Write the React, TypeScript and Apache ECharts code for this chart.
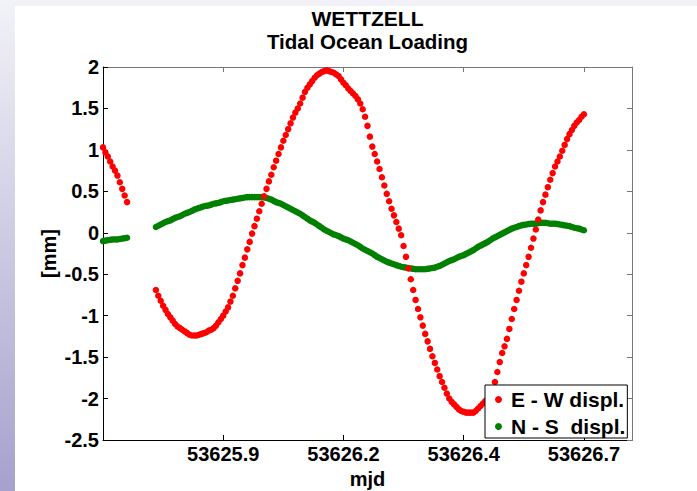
import React, { useEffect, useRef } from 'react';
import * as echarts from 'echarts';

// Observation epochs (MJD); a data gap lies between 53625.700 and 53625.760
const mjd = [
  53625.650, 53625.655, 53625.660, 53625.665, 53625.670, 53625.675, 53625.680, 53625.685, 53625.690, 53625.695, 53625.700,
  53625.760, 53625.765, 53625.770, 53625.775, 53625.780, 53625.785, 53625.790, 53625.795, 53625.800, 53625.805,
  53625.810, 53625.815, 53625.820, 53625.825, 53625.830, 53625.835, 53625.840, 53625.845, 53625.850, 53625.855,
  53625.860, 53625.865, 53625.870, 53625.875, 53625.880, 53625.885, 53625.890, 53625.895, 53625.900, 53625.905,
  53625.910, 53625.915, 53625.920, 53625.925, 53625.930, 53625.935, 53625.940, 53625.945, 53625.950, 53625.955,
  53625.960, 53625.965, 53625.970, 53625.975, 53625.980, 53625.985, 53625.990, 53625.995, 53626.000, 53626.005,
  53626.010, 53626.015, 53626.020, 53626.025, 53626.030, 53626.035, 53626.040, 53626.045, 53626.050, 53626.055,
  53626.060, 53626.065, 53626.070, 53626.075, 53626.080, 53626.085, 53626.090, 53626.095, 53626.100, 53626.105,
  53626.110, 53626.115, 53626.120, 53626.125, 53626.130, 53626.135, 53626.140, 53626.145, 53626.150, 53626.155,
  53626.160, 53626.165, 53626.170, 53626.175, 53626.180, 53626.185, 53626.190, 53626.195, 53626.200, 53626.205,
  53626.210, 53626.215, 53626.220, 53626.225, 53626.230, 53626.235, 53626.240, 53626.245, 53626.250, 53626.255,
  53626.260, 53626.265, 53626.270, 53626.275, 53626.280, 53626.285, 53626.290, 53626.295, 53626.300, 53626.305,
  53626.310, 53626.315, 53626.320, 53626.325, 53626.330, 53626.335, 53626.340, 53626.345, 53626.350, 53626.355,
  53626.360, 53626.365, 53626.370, 53626.375, 53626.380, 53626.385, 53626.390, 53626.395, 53626.400, 53626.405,
  53626.410, 53626.415, 53626.420, 53626.425, 53626.430, 53626.435, 53626.440, 53626.445, 53626.450, 53626.455,
  53626.460, 53626.465, 53626.470, 53626.475, 53626.480, 53626.485, 53626.490, 53626.495, 53626.500, 53626.505,
  53626.510, 53626.515, 53626.520, 53626.525, 53626.530, 53626.535, 53626.540, 53626.545, 53626.550, 53626.555,
  53626.560, 53626.565, 53626.570, 53626.575, 53626.580, 53626.585, 53626.590, 53626.595, 53626.600, 53626.605,
  53626.610, 53626.615, 53626.620, 53626.625, 53626.630, 53626.635, 53626.640, 53626.645, 53626.650,
];

// E - W displacement [mm]
const ewDispl = [
  1.03, 0.97, 0.92, 0.86, 0.80, 0.75, 0.69, 0.61, 0.53, 0.45, 0.37,
  -0.69, -0.76, -0.82, -0.88, -0.93, -0.98, -1.02, -1.06, -1.10, -1.13,
  -1.15, -1.17, -1.19, -1.21, -1.23, -1.24, -1.24, -1.24, -1.23, -1.22,
  -1.21, -1.20, -1.18, -1.17, -1.15, -1.12, -1.08, -1.04, -1.00, -0.95,
  -0.90, -0.83, -0.76, -0.67, -0.58, -0.49, -0.39, -0.30, -0.20, -0.11,
  -0.01, 0.08, 0.17, 0.26, 0.35, 0.44, 0.53, 0.62, 0.70, 0.79,
  0.87, 0.95, 1.03, 1.11, 1.18, 1.25, 1.32, 1.39, 1.45, 1.50,
  1.56, 1.63, 1.70, 1.75, 1.79, 1.83, 1.87, 1.90, 1.92, 1.94,
  1.95, 1.96, 1.95, 1.94, 1.93, 1.91, 1.89, 1.85, 1.81, 1.78,
  1.74, 1.71, 1.68, 1.65, 1.61, 1.56, 1.49, 1.40, 1.29, 1.16,
  1.04, 0.95, 0.86, 0.77, 0.67, 0.57, 0.47, 0.38, 0.29, 0.21,
  0.13, 0.05, -0.03, -0.16, -0.29, -0.43, -0.56, -0.69, -0.81, -0.92,
  -1.02, -1.12, -1.22, -1.31, -1.40, -1.49, -1.57, -1.65, -1.73, -1.80,
  -1.87, -1.94, -2.00, -2.04, -2.07, -2.10, -2.13, -2.15, -2.16, -2.17,
  -2.17, -2.17, -2.17, -2.15, -2.12, -2.09, -2.06, -2.03, -2.00, -1.96,
  -1.91, -1.80, -1.68, -1.56, -1.45, -1.37, -1.28, -1.16, -1.04, -0.92,
  -0.81, -0.70, -0.59, -0.49, -0.39, -0.29, -0.18, -0.07, 0.04, 0.16,
  0.27, 0.37, 0.46, 0.55, 0.64, 0.72, 0.80, 0.86, 0.92, 0.99,
  1.06, 1.13, 1.19, 1.24, 1.29, 1.33, 1.36, 1.40, 1.43,
];

// N - S displacement [mm]
const nsDispl = [
  -0.10, -0.095, -0.09, -0.085, -0.08, -0.08, -0.08, -0.075, -0.07, -0.065, -0.06,
  0.07, 0.085, 0.10, 0.115, 0.13, 0.14, 0.15, 0.165, 0.18, 0.19,
  0.20, 0.215, 0.23, 0.24, 0.25, 0.265, 0.28, 0.29, 0.30, 0.31,
  0.32, 0.325, 0.33, 0.34, 0.35, 0.355, 0.36, 0.37, 0.38, 0.385,
  0.39, 0.395, 0.40, 0.405, 0.41, 0.415, 0.42, 0.425, 0.43, 0.43,
  0.43, 0.43, 0.43, 0.43, 0.43, 0.425, 0.42, 0.41, 0.40, 0.385,
  0.37, 0.36, 0.35, 0.335, 0.32, 0.305, 0.29, 0.275, 0.26, 0.245,
  0.23, 0.21, 0.19, 0.17, 0.15, 0.135, 0.12, 0.10, 0.08, 0.06,
  0.04, 0.025, 0.01, -0.005, -0.02, -0.03, -0.04, -0.055, -0.07, -0.08,
  -0.09, -0.105, -0.12, -0.135, -0.15, -0.17, -0.19, -0.205, -0.22, -0.235,
  -0.25, -0.27, -0.29, -0.305, -0.32, -0.335, -0.35, -0.36, -0.37, -0.38,
  -0.39, -0.40, -0.41, -0.415, -0.42, -0.425, -0.43, -0.435, -0.44, -0.44,
  -0.44, -0.44, -0.44, -0.435, -0.43, -0.425, -0.42, -0.41, -0.40, -0.385,
  -0.37, -0.355, -0.34, -0.33, -0.32, -0.305, -0.29, -0.28, -0.27, -0.255,
  -0.24, -0.225, -0.21, -0.19, -0.17, -0.155, -0.14, -0.125, -0.11, -0.09,
  -0.07, -0.055, -0.04, -0.025, -0.01, 0.005, 0.02, 0.035, 0.05, 0.06,
  0.07, 0.08, 0.09, 0.095, 0.10, 0.105, 0.11, 0.11, 0.11, 0.115,
  0.12, 0.12, 0.12, 0.115, 0.11, 0.11, 0.11, 0.105, 0.10, 0.095,
  0.09, 0.085, 0.08, 0.07, 0.06, 0.055, 0.05, 0.04, 0.03,
];

const xTickValues = [53625.9, 53626.15, 53626.4, 53626.65];
const xTickLabels = ['53625.9', '53626.2', '53626.4', '53626.7'];
const titleLines = ['WETTZELL', 'Tidal Ocean Loading'];
const seriesNames = ['E - W displ.', 'N - S  displ.'];
const seriesColors = ['#ff0000', '#008000'];

const FONT = '"Liberation Sans", Arial, Helvetica, sans-serif';

export default function App() {
  const ref = useRef<HTMLDivElement>(null);

  useEffect(() => {
    if (!ref.current) return;
    const chart = echarts.init(ref.current, null, { renderer: 'svg' });

    const fmtX = (v: number) => {
      let best = -1;
      let d = Infinity;
      xTickValues.forEach((t, i) => {
        const dd = Math.abs(t - v);
        if (dd < d) { d = dd; best = i; }
      });
      return best >= 0 && d < 1e-4 ? xTickLabels[best] : '';
    };

    const labelStyle = { color: '#000', fontSize: 20, fontWeight: 'bold' as const, fontFamily: FONT };

    chart.setOption({
      animation: false,
      textStyle: { fontFamily: FONT },
      grid: { left: 103, top: 67, width: 529, height: 373, containLabel: false, outerBoundsMode: 'none' },
      graphic: [
        {
          type: 'text', x: 367.5, y: 18.5, z: 10,
          style: { text: titleLines[0], align: 'center', verticalAlign: 'middle', fill: '#000', fontSize: 21, fontWeight: 'bold', fontFamily: FONT },
        },
        {
          type: 'text', x: 367.5, y: 41.5, z: 10,
          style: { text: titleLines[1], align: 'center', verticalAlign: 'middle', fill: '#000', fontSize: 20.5, fontWeight: 'bold', fontFamily: FONT },
        },
      ],
      legend: {
        show: true,
        orient: 'vertical',
        left: 485,
        top: 385,
        data: seriesNames,
        icon: 'circle',
        itemWidth: 7,
        itemHeight: 7,
        itemGap: 4,
        padding: [3, 2, 0, 10],
        backgroundColor: '#fff',
        borderColor: '#000',
        borderWidth: 1,
        borderRadius: 0,
        selectedMode: false,
        textStyle: { color: '#000', fontSize: 21, fontWeight: 'bold', fontFamily: FONT, lineHeight: 23, padding: [0, 0, 0, 4] },
        z: 20,
      },
      xAxis: [
        {
          type: 'value',
          position: 'bottom',
          min: 53625.65,
          max: 53626.75,
          name: 'mjd',
          nameLocation: 'middle',
          nameGap: 27,
          nameTextStyle: labelStyle,
          axisLine: { show: true, onZero: false, lineStyle: { color: '#000', width: 1 } },
          axisTick: { show: true, inside: true, length: 5, customValues: xTickValues, lineStyle: { color: '#000' } },
          axisLabel: { show: true, customValues: xTickValues, formatter: fmtX, margin: 4, ...labelStyle },
          splitLine: { show: false },
        },
        {
          type: 'value',
          position: 'top',
          min: 53625.65,
          max: 53626.75,
          axisLine: { show: true, onZero: false, lineStyle: { color: '#777', width: 1 } },
          axisTick: { show: true, inside: true, length: 5, customValues: xTickValues, lineStyle: { color: '#777' } },
          axisLabel: { show: false },
          splitLine: { show: false },
        },
      ],
      yAxis: [
        {
          type: 'value',
          position: 'left',
          min: -2.5,
          max: 2,
          interval: 0.5,
          name: '[mm]',
          nameLocation: 'middle',
          nameGap: 44,
          nameRotate: 90,
          nameMoveOverlap: false,
          nameTextStyle: labelStyle,
          axisLine: { show: true, onZero: false, lineStyle: { color: '#000', width: 1 } },
          axisTick: { show: true, inside: true, length: 5, lineStyle: { color: '#000' } },
          axisLabel: { show: true, margin: 4, ...labelStyle },
          splitLine: { show: false },
        },
        {
          type: 'value',
          position: 'right',
          min: -2.5,
          max: 2,
          interval: 0.5,
          axisLine: { show: true, onZero: false, lineStyle: { color: '#777', width: 1 } },
          axisTick: { show: true, inside: true, length: 5, lineStyle: { color: '#777' } },
          axisLabel: { show: false },
          splitLine: { show: false },
        },
      ],
      series: [
        {
          name: seriesNames[0],
          type: 'scatter',
          xAxisIndex: 0,
          yAxisIndex: 0,
          symbol: 'circle',
          symbolSize: 6.5,
          itemStyle: { color: seriesColors[0], opacity: 1 },
          z: 3,
          data: mjd.map((t, i) => [t, ewDispl[i]]),
        },
        {
          name: seriesNames[1],
          type: 'scatter',
          xAxisIndex: 0,
          yAxisIndex: 0,
          symbol: 'circle',
          symbolSize: 6.5,
          itemStyle: { color: seriesColors[1], opacity: 1 },
          z: 2,
          data: mjd.map((t, i) => [t, nsDispl[i]]),
        },
      ],
    });

    return () => chart.dispose();
  }, []);

  return (
    <div
      style={{
        position: 'absolute', left: 0, top: 0, width: 697, height: 491, overflow: 'hidden',
        background: 'linear-gradient(to bottom, #f2f2f8 0%, #a6a1cd 100%)',
      }}
    >
      <div style={{ position: 'absolute', left: 15, top: 6, right: 0, bottom: 0, background: '#fff' }} />
      <div ref={ref} style={{ position: 'absolute', left: 0, top: 0, width: 697, height: 491 }} />
    </div>
  );
}
